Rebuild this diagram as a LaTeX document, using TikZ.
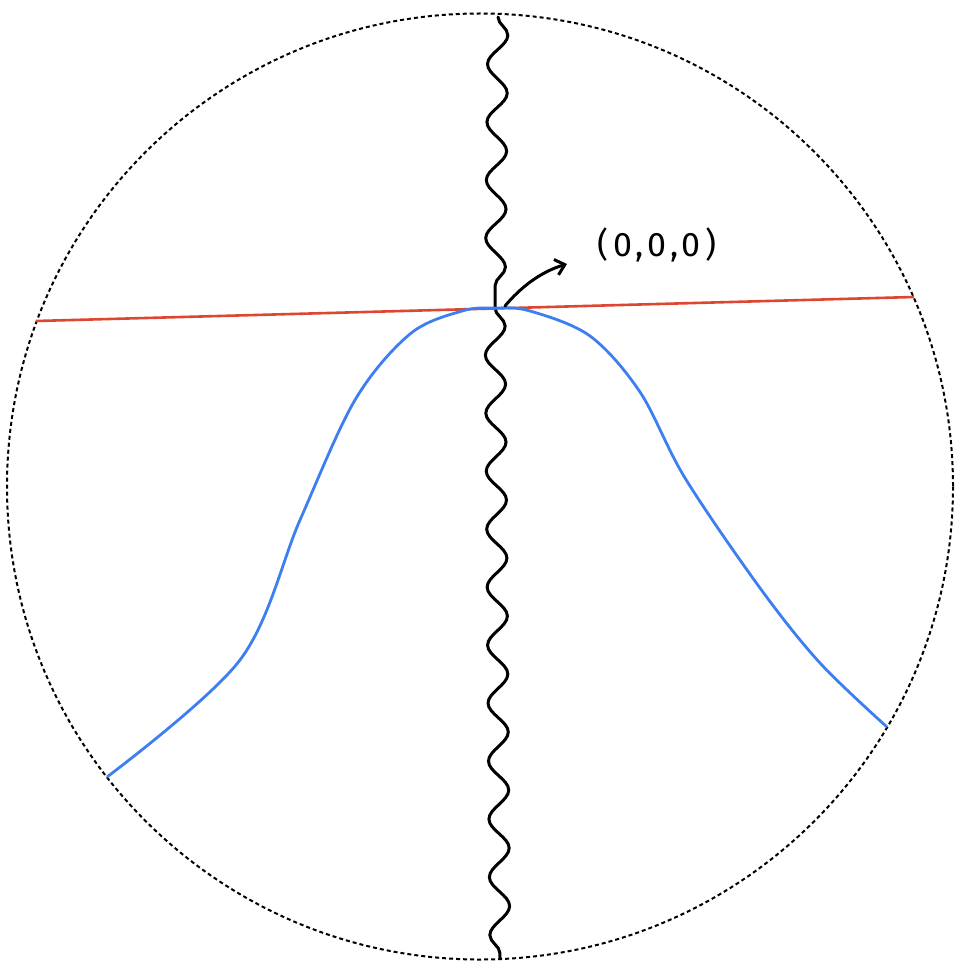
\documentclass[tikz,border=0pt]{standalone}
\usepackage{fontspec}
\setmainfont{Fira Sans}
\usetikzlibrary{decorations.pathmorphing,arrows.meta}
\definecolor{redl}{HTML}{DD4631}
\definecolor{bluel}{HTML}{3D7EF0}
\tikzset{
  bnd/.style={black,line width=2pt,dash pattern=on 4pt off 3pt},
  wavy/.style={black,line width=3pt,line cap=round,decorate,decoration={snake,segment length=58pt,amplitude=10pt}},
  hline/.style={redl,line width=2.6pt},
  curve/.style={bluel,line width=2.8pt},
  pointer/.style={black,line width=3pt,line cap=round,-{Straight Barb[length=9pt,width=16pt,line width=3pt]}},
}
\begin{document}
\begin{tikzpicture}[x=1pt,y=-1pt]
\useasboundingbox (0,0) rectangle (960,971);
\coordinate (c) at (480,486.5);
\draw[bnd] (c) circle (473);
\coordinate (top) at (498,17);
\coordinate (o) at (495,308);
\coordinate (bot) at (500,958);
\draw[wavy] (top) -- (o);
\draw[wavy] (o) -- (bot);
\coordinate (rl) at (36,321);
\coordinate (rr) at (914,297);
\draw[hline] (rl) -- (rr);
\coordinate (bl) at (107,777);
\coordinate (br) at (887,727);
\draw[curve] plot[smooth,tension=0.55] coordinates {(107,777) (240,660) (300,520) (355,400) (410,334) (462,311) (495,308) (530,311) (590,336) (640,392) (685,478) (760,588) (820,663) (887,727)};
\coordinate (as) at (505,306);
\coordinate (ae) at (567,264);
\draw[pointer] (as) .. controls (520,288) and (540,272) .. (ae);
\node (lab) at (657,245) {\fontsize{34}{36}\selectfont\addfontfeature{LetterSpace=12}(0,0,0)};
\end{tikzpicture}
\end{document}
